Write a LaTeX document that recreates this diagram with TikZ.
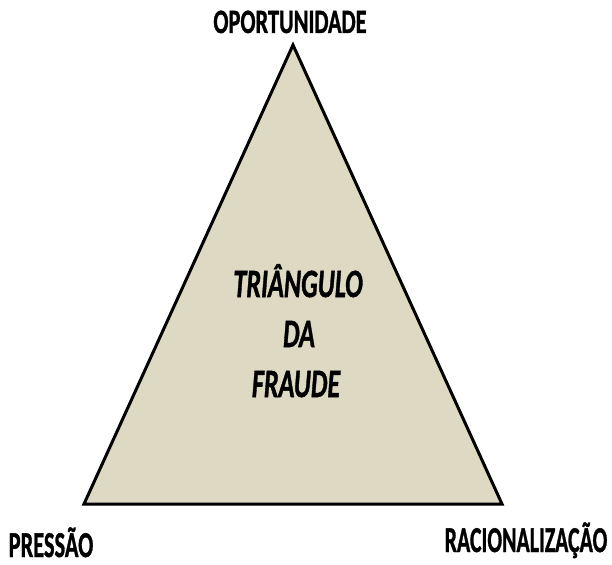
\documentclass[tikz,border=0pt]{standalone}
\usepackage{fontspec}
\setmainfont{Carlito}[BoldFeatures={FakeBold=1.3},BoldItalicFeatures={FakeBold=1.3}]
\definecolor{tanfill}{HTML}{DDD9C3}
\begin{document}
\begin{tikzpicture}[x=1pt,y=-1pt,
  lab/.style={anchor=base,inner sep=0pt,font=\fontsize{28}{30}\selectfont\bfseries},
  mid/.style={anchor=base,inner sep=0pt,font=\fontsize{34}{36}\selectfont\bfseries\itshape}]
\useasboundingbox (0,0) rectangle (612,564);
\coordinate (apex) at (293,45);
\coordinate (bl) at (84,504);
\coordinate (br) at (502,504);
\draw[line width=3pt,line join=miter,fill=tanfill] (apex) -- (bl) -- (br) -- cycle;
\node[lab] (op) at (290,33) {\scalebox{0.8}[1.22]{OPORTUNIDADE}};
\node[lab] (pr) at (51,557) {\raisebox{0pt}[\height][0pt]{\scalebox{0.8}[1.3]{PRESSÃO}}};
\node[lab] (ra) at (526,552) {\scalebox{0.78}[1.3]{RACIONALIZAÇÃO}};
\node[mid] (t1) at (298,297) {\scalebox{0.77}[1.18]{TRIÂNGULO}};
\node[mid] (t2) at (299,347) {\scalebox{0.77}[1.18]{DA}};
\node[mid] (t3) at (296,397) {\scalebox{0.77}[1.18]{FRAUDE}};
\end{tikzpicture}
\end{document}
